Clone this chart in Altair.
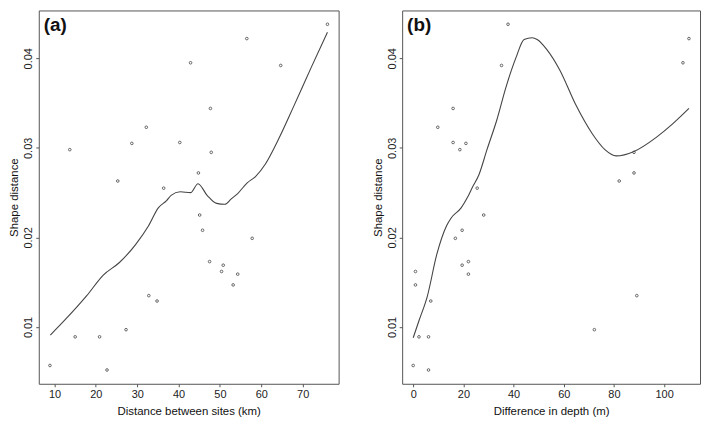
import altair as alt
import pandas as pd

FONT = "Liberation Sans"

# ---- panel (a): distance between sites vs shape distance ----
A_X = [8.9, 13.7, 15.0, 20.9, 22.7, 25.3, 27.3, 28.7, 32.2, 32.8, 34.8, 36.4, 40.3, 42.9,
       44.8, 45.1, 45.8, 47.5, 47.7, 47.9, 50.4, 50.8, 53.2, 54.3, 56.5, 57.8, 64.7, 76.0]
A_Y = [0.0057, 0.0298, 0.0089, 0.0089, 0.0052, 0.0263, 0.0097, 0.0305, 0.0323, 0.0135,
       0.0129, 0.0255, 0.0306, 0.0395, 0.0272, 0.0225, 0.0208, 0.0173, 0.0344, 0.0295,
       0.0162, 0.0169, 0.0147, 0.0159, 0.0422, 0.0199, 0.0392, 0.0438]
A_CURVE_X = [9.0, 12.35, 17.8, 21.8, 25.7, 29.6, 32.75, 35.1, 37.1, 38.2, 40.4, 42.9, 44.7,
             46.9, 49.2, 51.2, 52.75, 54.3, 56.6, 58.6, 61.0, 64.1, 68.0, 72.0, 76.0]
A_CURVE_Y = [0.0091, 0.0107, 0.0135, 0.0158, 0.0172, 0.0192, 0.0213, 0.0233, 0.0241, 0.0247,
             0.0251, 0.0250, 0.0260, 0.0247, 0.0238, 0.0237, 0.0243, 0.0249, 0.0261, 0.0268,
             0.0282, 0.0309, 0.0348, 0.0389, 0.0429]
A_TICKS = [10, 20, 30, 40, 50, 60, 70]
A_DOMAIN = [6.2, 78.7]

# ---- panel (b): difference in depth vs shape distance ----
B_X = [0, 0.9, 0.9, 2.3, 6.1, 6.1, 7.0, 9.8, 15.9, 15.9, 16.8, 18.6, 19.5, 19.5, 21.0, 22.0,
       22.0, 25.5, 28.1, 35.2, 37.8, 72.2, 82.1, 88.0, 88.0, 89.1, 107.5, 109.9]
B_Y = [0.0057, 0.0162, 0.0147, 0.0089, 0.0089, 0.0052, 0.0129, 0.0323, 0.0344, 0.0306,
       0.0199, 0.0298, 0.0208, 0.0169, 0.0305, 0.0173, 0.0159, 0.0255, 0.0225, 0.0392,
       0.0438, 0.0097, 0.0263, 0.0295, 0.0272, 0.0135, 0.0395, 0.0422]
B_CURVE_X = [0, 2.3, 5.6, 9.4, 13.3, 15.2, 19.1, 21.7, 23.6, 26.2, 29.4, 33.2, 37.1, 41.0,
             44.2, 47.4, 49.4, 53.2, 58.4, 64.8, 71.3, 76.4, 80.9, 88.0, 97.0, 103.5, 109.9]
B_CURVE_Y = [0.0088, 0.0107, 0.0134, 0.0181, 0.0213, 0.0222, 0.0233, 0.0245, 0.0256, 0.0270,
             0.0298, 0.0330, 0.0369, 0.0401, 0.0421, 0.0423, 0.0421, 0.0410, 0.0387, 0.0348,
             0.0316, 0.0298, 0.0291, 0.0296, 0.0312, 0.0327, 0.0344]
B_TICKS = [0, 20, 40, 60, 80, 100]
B_DOMAIN = [-4.4, 114.3]

Y_TICKS = [0.01, 0.02, 0.03, 0.04]
Y_DOMAIN = [0.00366, 0.04534]
PANEL_LABELS = ["(a)", "(b)"]
X_TITLES = ["Distance between sites (km)", "Difference in depth (m)"]
Y_TITLE = "Shape distance"


def panel(px, py, cx, cy, label, xtitle, xdomain, xticks, width):
    pts = pd.DataFrame({"x": px, "y": py})
    crv = pd.DataFrame({"x": cx, "y": cy})
    xs = alt.Scale(domain=xdomain, nice=False, zero=False)
    ys = alt.Scale(domain=Y_DOMAIN, nice=False, zero=False)
    xax = alt.Axis(title=xtitle, values=xticks, format="d", titlePadding=6)
    yax = alt.Axis(title=Y_TITLE, values=Y_TICKS, format=".2f", labelAngle=270,
                   labelAlign="center", labelBaseline="bottom")
    x_enc = alt.X("x:Q", scale=xs, axis=xax)
    y_enc = alt.Y("y:Q", scale=ys, axis=yax)
    points = alt.Chart(pts).mark_point(
        shape="circle", size=7, filled=False, color="#555", strokeWidth=0.9, opacity=1
    ).encode(x=x_enc, y=y_enc)
    line = alt.Chart(crv).mark_line(
        color="#444", strokeWidth=1.1, interpolate="monotone"
    ).encode(x=x_enc, y=y_enc)
    text = alt.Chart(pd.DataFrame({"t": [label]})).mark_text(
        align="left", baseline="top", fontSize=19, fontWeight="bold", font=FONT, color="#111"
    ).encode(x=alt.value(5), y=alt.value(6), text="t:N")
    return alt.layer(points, line, text).properties(width=width, height=376)


pa = panel(A_X, A_Y, A_CURVE_X, A_CURVE_Y, PANEL_LABELS[0], X_TITLES[0], A_DOMAIN, A_TICKS, 302)
pb = panel(B_X, B_Y, B_CURVE_X, B_CURVE_Y, PANEL_LABELS[1], X_TITLES[1], B_DOMAIN, B_TICKS, 300)

chart = alt.hconcat(pa, pb, spacing=32).properties(padding=0).configure_view(
    stroke="#555", strokeWidth=1
).configure_axis(
    domain=False, grid=False, tickSize=3, tickColor="#555", labelPadding=2, titlePadding=3,
    labelFont=FONT, titleFont=FONT, labelFontSize=11, titleFontSize=11.5,
    labelColor="#222", titleColor="#111", titleFontWeight="normal"
)

chart.save("out.html", embed_options={"renderer": "svg", "actions": False})
